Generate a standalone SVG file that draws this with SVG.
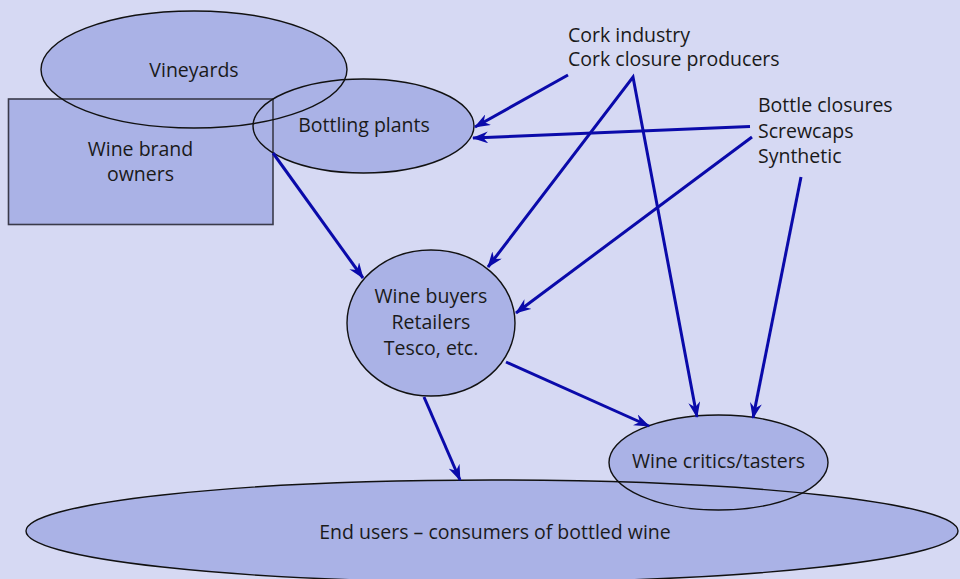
<svg xmlns="http://www.w3.org/2000/svg" xmlns:xlink="http://www.w3.org/1999/xlink" width="960" height="579" viewBox="0 0 960 579">
  <style>
    .bg { fill: #d6d9f3; }
    .shape { fill: #aab2e6; stroke: none; }
    .outline { fill: none; stroke: #111; stroke-width: 1.4; }
    .box-outline { fill: none; stroke: #3a3a4a; stroke-width: 1.6; }
    .label { font-family: "Open Sans", "Noto Sans", "Liberation Sans", sans-serif; font-size: 19.5px; fill: #1a1a1a; }
    .mid { text-anchor: middle; }
    .conn { fill: none; stroke: #0a0aaa; stroke-width: 3; stroke-linejoin: miter; marker-end: url(#arrow); }
    .both { marker-start: url(#arrow); }
  </style>
  <defs>
    <marker id="arrow" viewBox="0 0 16 12" refX="15" refY="6" markerWidth="16" markerHeight="12" markerUnits="userSpaceOnUse" orient="auto-start-reverse">
      <path d="M0,0 L16,6 L0,12 L5,6 z" fill="#0a0aaa"/>
    </marker>
    <ellipse id="shp-vineyards" cx="194" cy="69.5" rx="153" ry="58.5"/>
    <rect id="shp-brand" x="8.5" y="99" width="264.5" height="125.5"/>
    <ellipse id="shp-bottling" cx="363.5" cy="126" rx="110.5" ry="47"/>
    <ellipse id="shp-buyers" cx="431" cy="323" rx="84" ry="73"/>
    <ellipse id="shp-endusers" cx="492" cy="531" rx="466" ry="51"/>
    <ellipse id="shp-critics" cx="718.5" cy="462.5" rx="109.5" ry="47.5"/>
  </defs>

  <rect class="bg" x="0" y="0" width="960" height="579"/>

  <!-- node fills and labels -->
  <g id="vineyards">
    <use xlink:href="#shp-vineyards" class="shape"/>
    <text class="label mid" x="194" y="77">Vineyards</text>
  </g>
  <g id="wine-brand-owners">
    <use xlink:href="#shp-brand" class="shape"/>
    <text class="label mid" x="140.5" y="156">Wine brand</text>
    <text class="label mid" x="140.5" y="181">owners</text>
  </g>
  <g id="bottling-plants">
    <use xlink:href="#shp-bottling" class="shape"/>
    <text class="label mid" x="364" y="132">Bottling plants</text>
  </g>
  <g id="wine-buyers">
    <use xlink:href="#shp-buyers" class="shape"/>
    <text class="label mid" x="431" y="303">Wine buyers</text>
    <text class="label mid" x="431" y="329">Retailers</text>
    <text class="label mid" x="431" y="355">Tesco, etc.</text>
  </g>
  <g id="end-users">
    <use xlink:href="#shp-endusers" class="shape"/>
    <text class="label mid" x="495" y="539">End users – consumers of bottled wine</text>
  </g>
  <g id="wine-critics">
    <use xlink:href="#shp-critics" class="shape"/>
    <text class="label mid" x="718.5" y="468">Wine critics/tasters</text>
  </g>
  <g id="cork-industry">
    <text class="label" x="568" y="41.5">Cork industry</text>
    <text class="label" x="568" y="66">Cork closure producers</text>
  </g>
  <g id="bottle-closures">
    <text class="label" x="758" y="111.5">Bottle closures</text>
    <text class="label" x="758" y="137.5">Screwcaps</text>
    <text class="label" x="758" y="163">Synthetic</text>
  </g>

  <!-- outlines drawn above all fills so overlaps stay visible -->
  <g id="node-outlines">
    <use xlink:href="#shp-brand" class="box-outline"/>
    <use xlink:href="#shp-vineyards" class="outline"/>
    <use xlink:href="#shp-bottling" class="outline"/>
    <use xlink:href="#shp-buyers" class="outline"/>
    <use xlink:href="#shp-endusers" class="outline"/>
    <use xlink:href="#shp-critics" class="outline"/>
  </g>

  <!-- connectors -->
  <g id="connectors">
    <line class="conn" x1="273" y1="153" x2="363" y2="278"/>
    <line class="conn" x1="568" y1="75" x2="475" y2="127"/>
    <line class="conn" x1="750" y1="126.5" x2="473" y2="138"/>
    <path class="conn both" d="M488,267 L633,77 L697,417"/>
    <line class="conn" x1="752" y1="137" x2="516" y2="313"/>
    <line class="conn" x1="801" y1="177" x2="753" y2="418"/>
    <line class="conn" x1="506" y1="362" x2="649" y2="426"/>
    <line class="conn" x1="424" y1="397" x2="460" y2="480"/>
  </g>
</svg>
